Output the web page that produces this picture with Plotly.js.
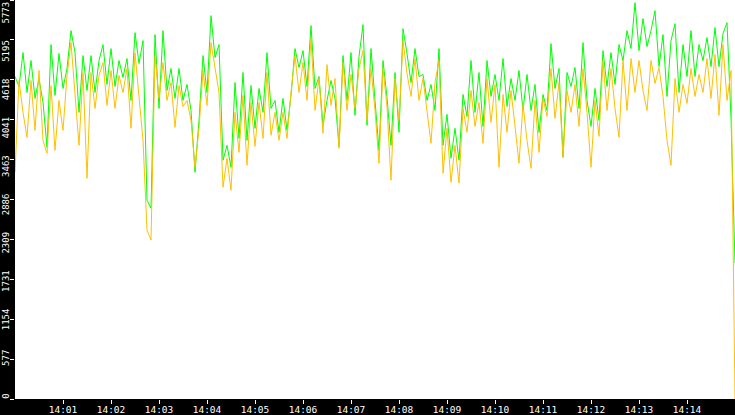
<!DOCTYPE html>
<html>
<head>
<meta charset="utf-8">
<script src="https://cdn.plot.ly/plotly-3.0.1.min.js"></script>
<style>
  html, body { margin: 0; padding: 0; background: #000; }
  #chart { width: 735px; height: 415px; }
</style>
</head>
<body>
<div id="chart"></div>
<script>
// samples every 5 s from 14:00:00 to 14:15:00
var startTime = Date.UTC(2020, 0, 1, 14, 0, 0);
var stepMs = 5000;

var greenValues = [
  4666, 4522, 5012, 4435, 4897, 4349, 4637, 4291, 3641, 5128,
  4392, 4998, 4493, 4782, 5330, 5012, 4147, 4969, 4464, 4969,
  4435, 4897, 5128, 4551, 5070, 4522, 4897, 4652, 4926, 4320,
  5301, 4854, 5186, 2876, 2761, 5272, 4204, 5330, 4464, 4782,
  4349, 4782, 4320, 4551, 4175, 3281, 4031, 4969, 4435, 5547,
  4940, 5128, 3454, 3670, 3353, 4579, 3771, 4724, 3742, 4536,
  3916, 4493, 4147, 5012, 4204, 4320, 3858, 4349, 3887, 4392,
  5070, 4796, 5041, 4522, 5402, 4493, 4666, 3959, 4320, 4608,
  4349, 3656, 4969, 4320, 5012, 4103, 4955, 5417, 3959, 5070,
  4320, 3598, 4897, 4363, 3670, 4724, 3858, 5359, 4998, 4579,
  5070, 4666, 4695, 4320, 4551, 4175, 5070, 3670, 4118, 3483,
  3916, 3454, 4406, 4089, 4897, 4147, 4724, 3944, 4897, 4377,
  4695, 4320, 4926, 4233, 4637, 4320, 4753, 4175, 4695, 4175,
  4551, 3858, 4406, 4175, 5142, 4493, 4782, 3497, 4724, 4522,
  4796, 4204, 5157, 4320, 3944, 4493, 4031, 5041, 4522, 5012,
  4551, 5128, 4897, 5330, 5070, 5734, 5041, 5503, 5099, 5330,
  5619, 4810, 5272, 4377, 5186, 5431, 4435, 5128, 4666, 5330,
  4666, 5128, 4897, 5229, 4810, 5373, 4810, 5287, 5445, 4060,
  1967
];

var orangeValues = [
  3281, 4608, 4147, 3786, 4608, 3887, 4753, 3742, 3555, 4536,
  3598, 4320, 3887, 4681, 5157, 4349, 3670, 4724, 3194, 4724,
  4204, 4681, 4868, 4248, 4753, 4204, 4681, 4435, 4782, 3916,
  5012, 4377, 3742, 2443, 2299, 4969, 4349, 4868, 4320, 4579,
  3930, 4536, 4233, 4320, 4031, 3353, 3916, 4753, 4248, 5157,
  4782, 4435, 3064, 3483, 3021, 4147, 3569, 4392, 3382, 4291,
  3656, 4291, 3771, 4724, 3815, 4147, 3742, 4147, 3771, 4435,
  4969, 4435, 4868, 4320, 5215, 4175, 4637, 3844, 4839, 4248,
  4637, 3627, 4868, 4175, 4695, 4204, 4782, 5041, 4031, 4782,
  4175, 3410, 4782, 4233, 3165, 4637, 4031, 5186, 4709, 4377,
  4926, 4320, 4637, 4175, 3699, 4579, 4897, 3266, 3916, 3136,
  3670, 3122, 4204, 3858, 4464, 3944, 4291, 3699, 4637, 4002,
  4551, 3353, 4406, 3858, 4464, 3944, 3410, 4262, 3742, 3338,
  4320, 3569, 4349, 4089, 4782, 4060, 4579, 3497, 4464, 4147,
  4551, 3944, 4782, 4147, 3353, 4320, 3800, 4897, 4175, 4782,
  4204, 3786, 4897, 4175, 4926, 4435, 4897, 4464, 4175, 4897,
  4565, 4796, 4377, 3742, 3382, 4637, 4147, 4551, 4276, 4782,
  4377, 4695, 4435, 4926, 4349, 4984, 4103, 5128, 4320, 4753,
  0
];

var yTickValues = [0, 577.3, 1154.6, 1731.9, 2309.2, 2886.5, 3463.8, 4041.1, 4618.4, 5195.7, 5773];
var yTickLabels = ['0', '577', '1154', '1731', '2309', '2886', '3463', '4041', '4618', '5195', '5773'];
var xTickMinutes = [1, 2, 3, 4, 5, 6, 7, 8, 9, 10, 11, 12, 13, 14];

function timeAxis(n) {
  var out = [];
  for (var i = 0; i < n; i++) out.push(startTime + i * stepMs);
  return out;
}

var xTickVals = xTickMinutes.map(function (m) { return startTime + m * 60000; });
var xTickText = xTickMinutes.map(function (m) { return '14:' + (m < 10 ? '0' : '') + m; });

var data = [
  {
    type: 'scatter',
    mode: 'lines',
    x: timeAxis(greenValues.length),
    y: greenValues,
    line: { color: '#00ff00', width: 1 },
    hoverinfo: 'none'
  },
  {
    type: 'scatter',
    mode: 'lines',
    x: timeAxis(orangeValues.length),
    y: orangeValues,
    line: { color: '#ffc000', width: 1 },
    hoverinfo: 'none'
  },
  // empty trace so the label axis gets drawn
  {
    type: 'scatter',
    mode: 'lines',
    x: [],
    y: [],
    yaxis: 'y2',
    hoverinfo: 'none'
  }
];

var axisFont = { family: 'DejaVu Sans Mono', size: 9.5, color: '#ffffff' };

var layout = {
  width: 735,
  height: 415,
  showlegend: false,
  paper_bgcolor: '#000000',
  plot_bgcolor: '#ffffff',
  margin: { l: 15, r: 0, t: 0, b: 16, pad: 0 },
  xaxis: {
    type: 'date',
    range: [startTime, startTime + 15 * 60000],
    tickmode: 'array',
    tickvals: xTickVals,
    ticktext: xTickText,
    ticks: 'outside',
    ticklen: 4,
    tickwidth: 1,
    tickcolor: '#ffffff',
    tickfont: axisFont,
    ticklabelstandoff: -2,
    showgrid: false,
    zeroline: false,
    showline: false,
    fixedrange: true
  },
  // tick marks only
  yaxis: {
    range: [0, 5773],
    tickmode: 'array',
    tickvals: yTickValues,
    ticks: 'outside',
    ticklen: 4,
    tickwidth: 1,
    tickcolor: '#ffffff',
    showticklabels: false,
    showgrid: false,
    zeroline: false,
    showline: false,
    fixedrange: true
  },
  // labels sit a little below their ticks, spread slightly tighter, as in the source
  yaxis2: {
    overlaying: 'y',
    side: 'left',
    range: [-22.6, 5983.8],
    tickmode: 'array',
    tickvals: yTickValues,
    ticktext: yTickLabels,
    tickangle: -90,
    ticks: 'outside',
    ticklen: 4,
    tickcolor: 'rgba(0,0,0,0)',
    tickfont: { family: 'DejaVu Sans Mono', size: 9, color: '#ffffff' },
    ticklabelstandoff: -3,
    ticklabeloverflow: 'allow',
    showgrid: false,
    zeroline: false,
    showline: false,
    fixedrange: true
  }
};

Plotly.newPlot('chart', data, layout, { displayModeBar: false, staticPlot: true });
</script>
</body>
</html>
